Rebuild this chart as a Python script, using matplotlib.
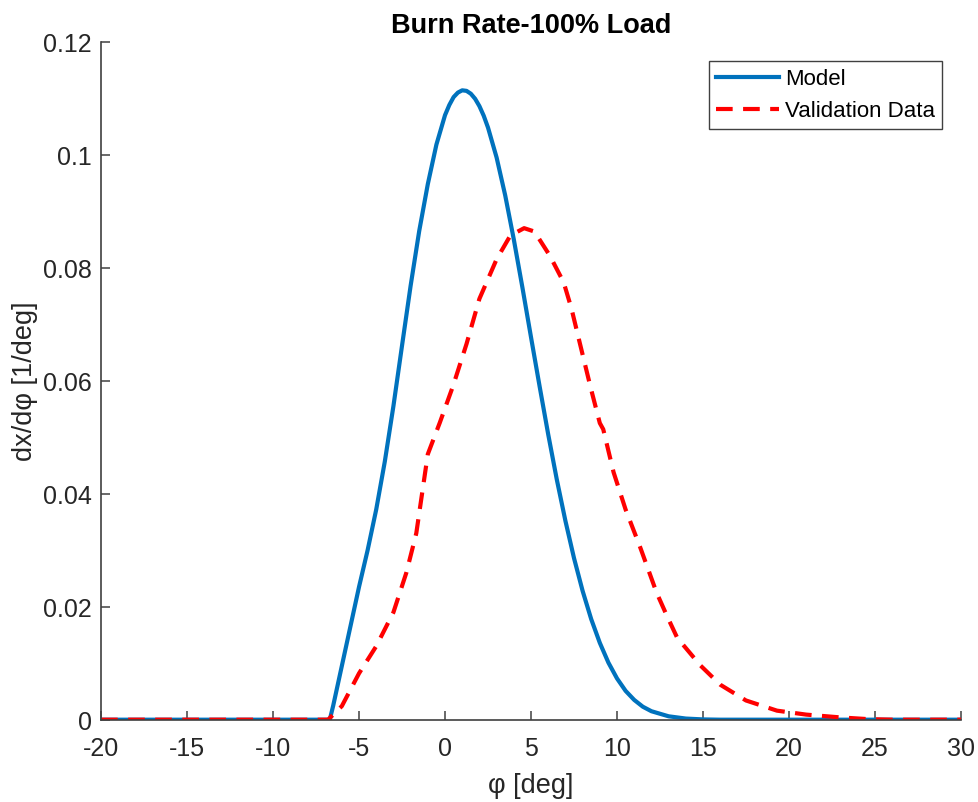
import numpy as np
import matplotlib
matplotlib.use("Agg")
import matplotlib.pyplot as plt

plt.rcParams['font.family'] = ['Liberation Sans', 'DejaVu Sans']

# Model burn rate
model_phi = [-20, -6.7, -6.5, -6.0, -5.5, -5.0, -4.5, -4.0, -3.5, -3.0, -2.5,
             -2.0, -1.5, -1.0, -0.5, 0.0, 0.25, 0.5, 0.75, 1.0, 1.25, 1.5,
             1.75, 2.0, 2.25, 2.5, 3.0, 3.5, 4.0, 4.5, 5.0, 5.5, 6.0, 6.5,
             7.0, 7.5, 8.0, 8.5, 9.0, 9.5, 10.0, 10.5, 11.0, 11.5, 12.0,
             13.0, 14.0, 15.0, 16.0, 30]
model_rate = [0, 0, 0.0025, 0.0095, 0.0165, 0.0235, 0.030, 0.0372, 0.0457,
              0.0555, 0.0662, 0.0768, 0.0865, 0.0948, 0.1018, 0.107, 0.1088,
              0.1102, 0.1110, 0.1114, 0.1113, 0.1108, 0.1099, 0.1086, 0.1069,
              0.1048, 0.0995, 0.0928, 0.0850, 0.0765, 0.0677, 0.059, 0.0505,
              0.0425, 0.0352, 0.0286, 0.0228, 0.0178, 0.0136, 0.0101, 0.0073,
              0.0051, 0.0035, 0.0023, 0.0015, 0.0006, 0.0002, 0.00005, 0, 0]

# Validation data
val_phi = [-20, -6.8, -6.0, -5.0, -4.0, -3.0, -2.25, -1.67, -1.0, -0.3, 0.47,
           1.25, 2.0, 3.0, 3.8, 4.6, 5.2, 6.1, 6.9, 7.35, 7.85, 8.45, 9.0,
           9.2, 9.8, 10.5, 11.35, 12.3, 12.9, 13.5, 14.85, 16.0, 17.5, 19.3,
           21.0, 23.0, 24.6, 26.0, 30]
val_rate = [0, 0, 0.0024, 0.0082, 0.013, 0.019, 0.026, 0.033, 0.047, 0.0526,
            0.0591, 0.0665, 0.0745, 0.0815, 0.0857, 0.0870, 0.0864, 0.0821,
            0.0774, 0.0728, 0.0665, 0.059, 0.0525, 0.0514, 0.0438, 0.0372,
            0.0305, 0.0225, 0.0184, 0.0145, 0.0096, 0.0062, 0.0034, 0.0016,
            0.0009, 0.0004, 0.0001, 0, 0]

xticks = [-20, -15, -10, -5, 0, 5, 10, 15, 20, 25, 30]
yticks = [0, 0.02, 0.04, 0.06, 0.08, 0.1, 0.12]
yticklabels = ['0', '0.02', '0.04', '0.06', '0.08', '0.1', '0.12']

axcol = '#404040'
txtcol = '#262626'

fig = plt.figure(figsize=(9.79, 8.03), dpi=100)
ax = fig.add_axes([0.1032, 0.1025, 0.8784, 0.8443])

ax.plot(model_phi, model_rate, color='#0072BD', lw=3, label='Model')
ax.plot(val_phi, val_rate, color='#FF0000', lw=3, dashes=[4, 2.5],
        label='Validation Data')

ax.set_xlim(-20, 30)
ax.set_ylim(0, 0.12)
ax.set_xticks(xticks)
ax.set_xticklabels([str(t) for t in xticks])
ax.set_yticks(yticks)
ax.set_yticklabels(yticklabels)

for s in ['top', 'right']:
    ax.spines[s].set_visible(False)
for s in ['left', 'bottom']:
    ax.spines[s].set_color(axcol)
    ax.spines[s].set_linewidth(1.2)
ax.tick_params(direction='in', length=6.5, width=1.1, color=axcol,
               labelcolor=txtcol, labelsize=18)
ax.tick_params(axis='x', pad=11.5)
ax.tick_params(axis='y', pad=6.5)

ax.set_xlabel('φ [deg]', fontsize=19.5, color=txtcol, labelpad=9)
ax.set_ylabel('dx/dφ [1/deg]', fontsize=19.5, color=txtcol, labelpad=4)
ax.set_title('Burn Rate-100% Load', fontsize=19.5, fontweight='bold', pad=7)

leg = ax.legend(loc='upper right', bbox_to_anchor=(0.978, 0.9715), fontsize=16,
                fancybox=False, framealpha=1, edgecolor=axcol,
                handlelength=2.85, handletextpad=0.25, borderpad=0.33,
                labelspacing=0.5, borderaxespad=0)
leg.get_frame().set_linewidth(1.0)

fig.savefig('out.png', dpi=100)
